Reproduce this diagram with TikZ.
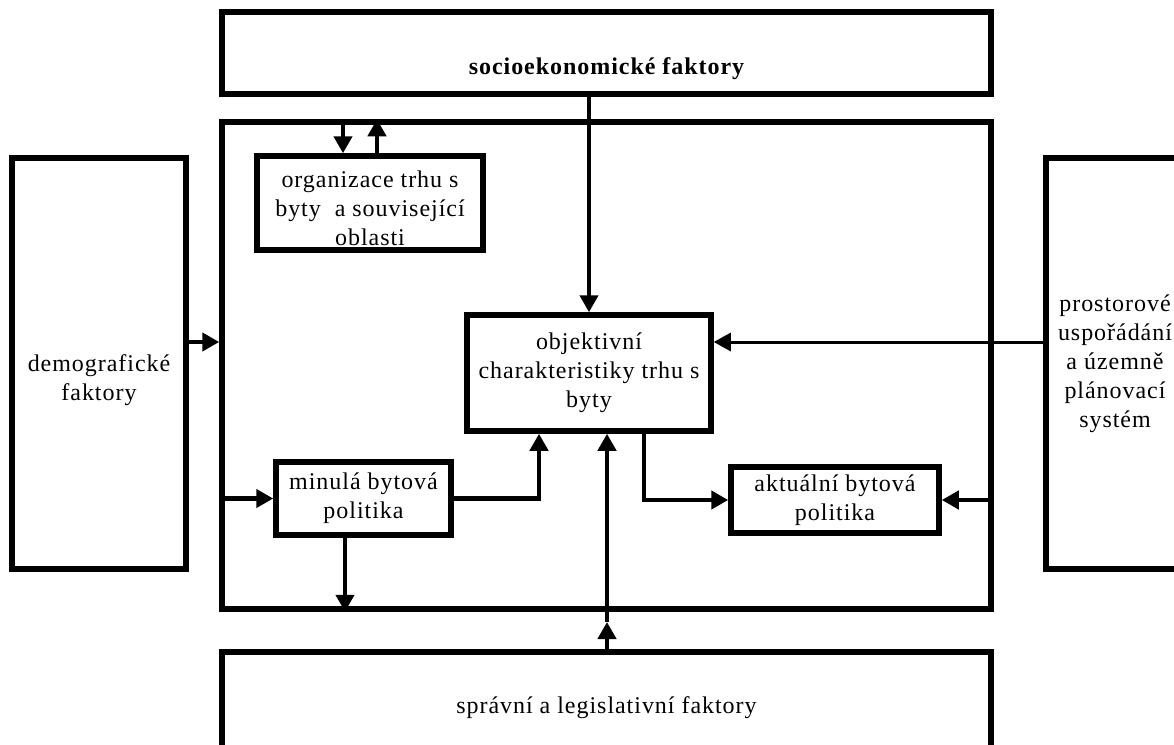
\documentclass[tikz,border=0pt]{standalone}
\usepackage{fontspec}
\setmainfont[LetterSpace=4]{Liberation Serif}
\usepackage{xcolor}
\usepackage{tikz}
\usetikzlibrary{calc,positioning,arrows.meta}
\definecolor{ink}{HTML}{000000}
\newcommand{\padtop}[1]{\rule{0pt}{#1}}

\begin{document}
\begin{tikzpicture}[
  x=1pt, y=-1pt,
  factorbox/.style={
    rectangle, draw=ink, line width=5.5pt,
    inner sep=0pt, align=center,
    font=\fontsize{24}{29}\selectfont,
  },
  link/.style={
    draw=ink, line width=4.5pt,
    -{Triangle[length=17pt,width=18pt]},
  },
  thinlink/.style={link, line width=3pt},
]

\useasboundingbox (0,0) rectangle (1174,744);
\clip (0,0) rectangle (1174,744);

\node[factorbox, minimum width=769pt, minimum height=82pt] (socio) at (606.5,53) {\padtop{48pt}\bfseries socioekonomické faktory};
\node[factorbox, minimum width=769pt, minimum height=487pt] (trh) at (606.5,365.5) {};
\node[factorbox, minimum width=174pt, minimum height=411pt] (demo) at (99,363.5) {\padtop{50pt}demografické\\faktory};
\node[factorbox, minimum width=138pt, minimum height=411pt] (prostor) at (1115,363.5) {prostorové\\uspořádání\\a územně\\plánovací\\systém};
\node[factorbox, minimum width=769pt, minimum height=112pt] (sprav) at (606.5,708) {správní a legislativní faktory};

\node[factorbox, minimum width=226pt, minimum height=94pt] (org) at (370,203) {\padtop{27pt}organizace trhu s\\byty\ \ a související\\oblasti};
\node[factorbox, minimum width=244pt, minimum height=116pt] (objektiv) at (589,373) {objektivní\\charakteristiky trhu s\\byty};
\node[factorbox, minimum width=175pt, minimum height=73pt] (minula) at (363.5,498.5) {minulá bytová\\politika};
\node[factorbox, minimum width=208pt, minimum height=66pt] (aktualni) at (835,500) {aktuální bytová\\politika};

\coordinate (lvl) at (0,342);
\coordinate (m1) at (607,622);

\draw[link] (objektiv.north |- socio.south) -- (objektiv.north);
\draw[link] ([xshift=-27pt]org.north |- trh.north) -- ([xshift=-27pt]org.north);
\draw[link] ([xshift=7pt]org.north) -- ([xshift=7pt]org.north |- trh.north);
\draw[link] (demo.east |- lvl) -- (trh.west |- lvl);
\draw[thinlink] (prostor.west |- lvl) -- (objektiv.east |- lvl);
\draw[link] (trh.west |- minula.west) -- (minula.west);
\draw[link] ([xshift=-18.5pt]minula.south) -- ([xshift=-18.5pt]minula.south |- trh.south);
\draw[link] (minula.east) -| ([xshift=-50pt]objektiv.south);
\draw[link] (sprav.north -| m1) -- (m1);
\draw[link] (m1) -- (objektiv.south -| m1);
\draw[link] ([xshift=55pt]objektiv.south) |- (aktualni.west);
\draw[link] (trh.east |- aktualni.east) -- (aktualni.east);

\end{tikzpicture}
\end{document}
